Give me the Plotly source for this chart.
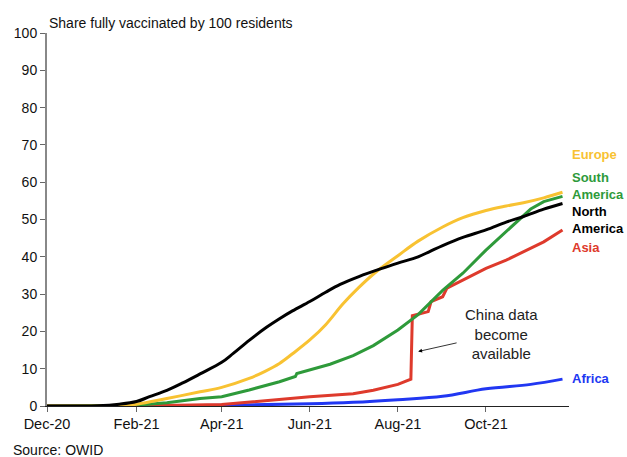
import plotly.graph_objects as go

# ---- data ----
na_dates = ["2020-12-01","2021-01-05","2021-01-20","2021-02-01","2021-02-10","2021-02-22","2021-03-05",
            "2021-03-17","2021-04-01","2021-04-09","2021-04-20","2021-05-02","2021-05-11","2021-05-20",
            "2021-06-01","2021-06-12","2021-06-22","2021-07-05","2021-07-21","2021-08-01","2021-08-15",
            "2021-08-23","2021-09-01","2021-09-15","2021-10-01","2021-10-15","2021-10-27","2021-11-10",
            "2021-11-23"]
na_vals = [0,0.1,0.5,1.2,2.5,4.2,6.2,8.6,11.7,14.1,17.6,21.1,23.4,25.5,28.0,30.5,32.6,34.7,36.9,38.3,
           40.0,41.4,43.0,45.2,47.2,49.3,50.8,52.8,54.3]

eu_dates = ["2020-12-01","2021-01-10","2021-02-01","2021-02-22","2021-03-17","2021-04-01","2021-04-20",
            "2021-05-01","2021-05-11","2021-05-20","2021-06-01","2021-06-12","2021-06-24","2021-07-05",
            "2021-07-17","2021-08-01","2021-08-15","2021-09-01","2021-09-15","2021-10-01","2021-10-15",
            "2021-10-27","2021-11-10","2021-11-23"]
eu_vals = [0,0.1,0.5,2.0,3.8,5.0,7.4,9.3,11.4,14.0,17.7,21.8,27.4,31.8,36.0,40.3,44.2,48.0,50.5,52.4,
           53.6,54.5,55.8,57.3]

sa_dates = ["2020-12-01","2021-01-20","2021-02-01","2021-02-22","2021-03-17","2021-04-01","2021-04-20",
            "2021-05-11","2021-05-22","2021-05-23","2021-06-01","2021-06-15","2021-07-01","2021-07-15",
            "2021-08-01","2021-08-15","2021-09-01","2021-09-15","2021-10-01","2021-10-15","2021-11-01",
            "2021-11-10","2021-11-23"]
sa_vals = [0,0.05,0.2,0.9,2.0,2.5,4.3,6.5,7.9,8.7,9.7,11.2,13.5,16.2,20.4,24.5,31.0,35.6,41.8,46.8,
           52.8,54.8,56.2]

as_dates = ["2020-12-01","2021-02-15","2021-03-01","2021-04-01","2021-05-11","2021-06-01","2021-07-01",
            "2021-07-15","2021-08-01","2021-08-10","2021-08-11","2021-08-22","2021-08-24","2021-09-01",
            "2021-09-04","2021-09-15","2021-10-01","2021-10-15","2021-11-01","2021-11-10","2021-11-23"]
as_vals = [0,0.05,0.2,0.4,1.8,2.5,3.3,4.2,5.8,7.2,24.2,25.3,28.0,29.3,31.6,33.8,36.9,39.1,42.2,44.0,47.2]

af_dates = ["2020-12-01","2021-03-01","2021-04-01","2021-06-01","2021-07-01","2021-08-01","2021-09-01",
            "2021-10-01","2021-11-01","2021-11-23"]
af_vals = [0,0.05,0.2,0.6,1.0,1.7,2.6,4.6,5.8,7.2]

tick_vals = ["2020-12-01","2021-02-01","2021-04-01","2021-06-01","2021-08-01","2021-10-01"]
tick_text = ["Dec-20","Feb-21","Apr-21","Jun-21","Aug-21","Oct-21"]

FONT = "Liberation Sans, Arial, sans-serif"
C_EU, C_SA, C_NA, C_AS, C_AF = "#F8C232", "#2E9A3A", "#000000", "#DE3A2C", "#2137F2"

fig = go.Figure()
for d, v, c, n, shp in [(af_dates, af_vals, C_AF, "Africa", "spline"), (as_dates, as_vals, C_AS, "Asia", "linear"),
                        (sa_dates, sa_vals, C_SA, "South America", "linear"),
                        (eu_dates, eu_vals, C_EU, "Europe", "spline"),
                        (na_dates, na_vals, C_NA, "North America", "spline")]:
    fig.add_trace(go.Scatter(x=d, y=v, mode="lines", name=n,
                             line=dict(color=c, width=3, shape=shp, smoothing=1), cliponaxis=False))

labels = [("Europe", 67.3, C_EU), ("South<br>America", 59.1, C_SA), ("North<br>America", 49.9, C_NA),
          ("Asia", 42.6, C_AS), ("Africa", 7.5, C_AF)]
for t, y, c in labels:
    fig.add_annotation(text=f"<b>{t}</b>", xref="paper", x=1.0, xshift=1, yref="y", y=y, xanchor="left",
                       yanchor="middle", showarrow=False, align="left",
                       font=dict(family=FONT, size=13, color=c))

fig.add_annotation(text="China data<br>become<br>available", x="2021-10-12", y=19.3, xref="x", yref="y",
                   showarrow=False, font=dict(family=FONT, size=15, color="#222"), align="center")
fig.add_annotation(x="2021-08-15", y=14.6, xref="x", yref="y", ax=40, ay=-9, text="", showarrow=True,
                   arrowhead=2, arrowsize=1, arrowwidth=0.8, arrowcolor="#000")

fig.add_annotation(text="Share fully vaccinated by 100 residents", xref="paper", yref="paper", x=0, y=1.027,
                   xanchor="left", yanchor="middle", showarrow=False,
                   font=dict(family=FONT, size=14, color="#111"))
fig.add_annotation(text="Source: OWID", xref="paper", yref="paper", x=-0.0696, y=-0.118,
                   xanchor="left", yanchor="middle", showarrow=False,
                   font=dict(family=FONT, size=14, color="#111"))

fig.update_layout(
    width=627, height=457, margin=dict(l=47, r=58, t=33, b=51),
    paper_bgcolor="white", plot_bgcolor="white", showlegend=False,
    font=dict(family=FONT, size=14, color="#111"),
    xaxis=dict(range=["2020-12-01", "2021-11-27 12:00"], tickvals=tick_vals, ticktext=tick_text,
               showgrid=False, zeroline=False, showline=True, linecolor="#222", linewidth=1,
               ticks="outside", ticklen=5, tickcolor="#666", tickfont=dict(size=14.5)),
    yaxis=dict(range=[0, 100], dtick=10, showgrid=False, zeroline=False, showline=True,
               linecolor="#888", linewidth=2, ticks="outside", ticklen=5, tickcolor="#666",
               tickfont=dict(size=14)),
)
fig.write_html("out.html", config={"displayModeBar": False},
               post_script="document.body.style.margin='0';document.body.style.padding='0';")
